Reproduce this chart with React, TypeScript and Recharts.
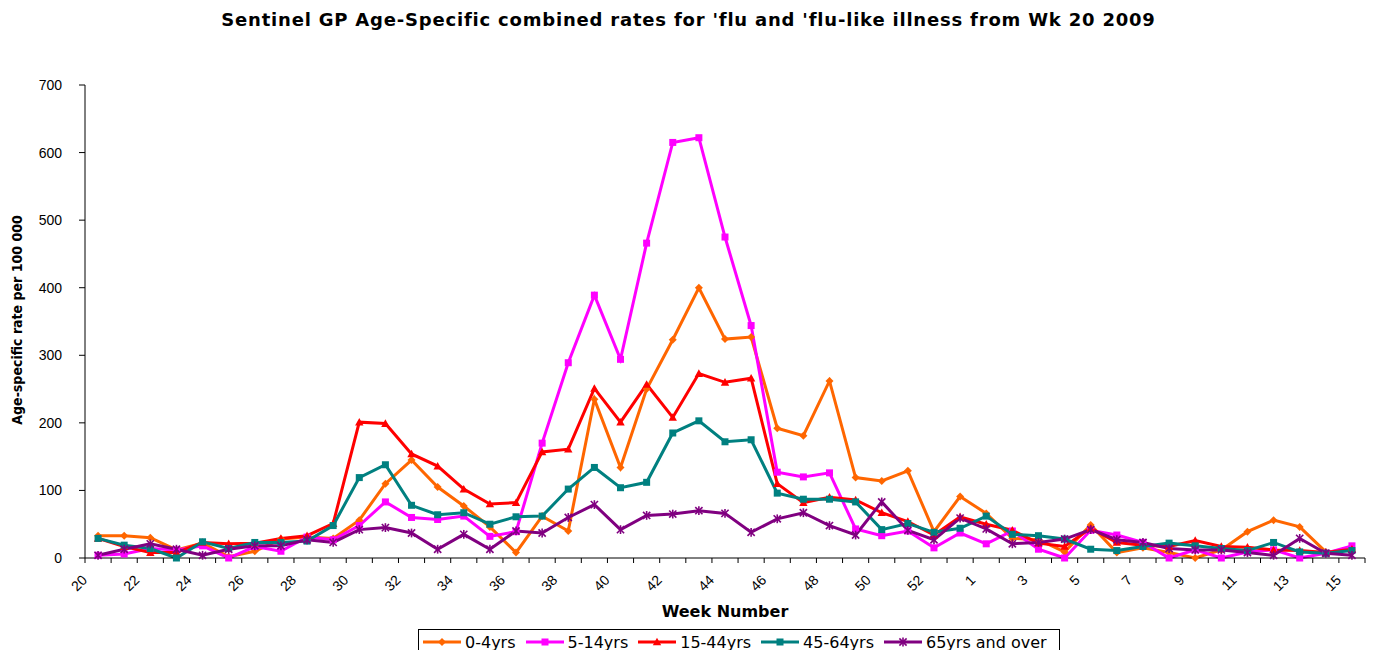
import React from 'react';
import { LineChart, Line, XAxis, YAxis, Legend } from 'recharts';

const weeks = ['20','21','22','23','24','25','26','27','28','29','30','31','32','33','34','35','36','37','38','39','40','41','42','43','44','45','46','47','48','49','50','51','52','53','1','2','3','4','5','6','7','8','9','10','11','12','13','14','15'];

const age0to4 = [33,33,30,12,22,2,10,28,31,29,56,110,145,105,77,46,8,62,40,235,134,250,323,400,324,327,192,181,262,119,114,129,39,91,66,29,27,9,49,8,15,8,0,12,39,56,46,9,12];
const age5to14 = [4,6,14,12,18,0,17,10,31,27,48,83,60,57,62,32,39,170,289,389,294,466,615,622,475,344,127,120,126,43,33,40,15,37,21,40,13,0,41,34,23,0,12,0,9,12,0,7,18];
const age15to44 = [29,17,8,8,23,21,22,29,33,51,201,199,154,136,102,80,82,157,161,251,201,257,208,273,260,266,110,82,90,86,67,54,34,61,50,41,22,17,44,23,19,17,26,17,16,12,11,8,13];
const age45to64 = [29,19,14,0,24,14,23,23,25,48,119,138,78,64,67,50,61,62,102,134,104,112,185,203,172,175,96,87,87,83,42,51,38,44,62,35,33,28,13,11,17,22,18,14,11,23,9,7,11];
const age65plus = [4,13,21,13,4,13,18,18,27,23,42,45,37,13,35,13,40,37,60,79,42,63,65,70,66,38,58,67,48,34,83,41,27,59,43,21,23,28,42,27,23,14,12,12,8,4,29,7,4];

const yTicks = [0, 100, 200, 300, 400, 500, 600, 700];

const seriesNames = ['0-4yrs', '5-14yrs', '15-44yrs', '45-64yrs', '65yrs and over'];
const seriesValues = [age0to4, age5to14, age15to44, age45to64, age65plus];
const seriesKeys = ['s0', 's1', 's2', 's3', 's4'];
const seriesColors = ['#FF6600', '#FF00FF', '#FF0000', '#008080', '#800080'];
const seriesShapes = ['diamond', 'square', 'triangle', 'square', 'star'];

const data = weeks.map((w, i) => {
  const row: Record<string, any> = { week: w };
  seriesKeys.forEach((k, j) => { row[k] = seriesValues[j][i]; });
  return row;
});

const PLOT_LEFT = 85;
const PLOT_RIGHT = 1365;
const BAND = (PLOT_RIGHT - PLOT_LEFT) / weeks.length;

const Marker = ({ shape, cx, cy, color, s = 1 }: any) => {
  if (shape === 'diamond') {
    const r = 4 * s;
    return <path d={`M${cx},${cy - r}L${cx + r},${cy}L${cx},${cy + r}L${cx - r},${cy}Z`} fill={color} />;
  }
  if (shape === 'square') {
    const r = 3.5 * s;
    return <rect x={cx - r} y={cy - r} width={2 * r} height={2 * r} fill={color} />;
  }
  if (shape === 'triangle') {
    const r = 4.2 * s;
    return <path d={`M${cx},${cy - r}L${cx + r},${cy + r * 0.8}L${cx - r},${cy + r * 0.8}Z`} fill={color} />;
  }
  const r = 3.6 * s;
  return (
    <g stroke={color} strokeWidth={1.6}>
      <line x1={cx - r} y1={cy - r} x2={cx + r} y2={cy + r} />
      <line x1={cx - r} y1={cy + r} x2={cx + r} y2={cy - r} />
      <line x1={cx} y1={cy - r - 0.8} x2={cx} y2={cy + r + 0.8} />
    </g>
  );
};

const makeDot = (shape: string, color: string, key: string) => (props: any) => {
  const { cx, cy, index } = props;
  if (cx == null || cy == null) return <g key={`${key}-${index}`} />;
  return <Marker key={`${key}-${index}`} shape={shape} cx={cx} cy={cy} color={color} />;
};

const XTick = (props: any) => {
  const { x, y, payload } = props;
  const ax = x - 10;
  const ay = y + 23;
  return (
    <g>
      <line x1={x - BAND / 2} x2={x - BAND / 2} y1={y} y2={y + 5} stroke="#000" />
      <line x1={x + BAND / 2} x2={x + BAND / 2} y1={y} y2={y + 5} stroke="#000" />
      <text
        x={ax}
        y={ay}
        textAnchor="end"
        transform={`rotate(-45, ${ax}, ${ay})`}
        fontSize={14}
        fontFamily="'Liberation Sans', Arial, sans-serif"
        fill="#000"
      >
        {payload.value}
      </text>
    </g>
  );
};

const YLabel = () => (
  <text
    x={22}
    y={320}
    transform="rotate(-90, 22, 320)"
    textAnchor="middle"
    fontSize={14}
    fontWeight="bold"
    fontFamily="'DejaVu Sans Condensed', 'Liberation Sans Narrow', sans-serif"
    fill="#000"
  >
    Age-specific rate per 100 000
  </text>
);

const XLabel = () => (
  <text
    x={725}
    y={617}
    textAnchor="middle"
    fontSize={16}
    fontWeight="bold"
    fontFamily="'DejaVu Sans', sans-serif"
    fill="#000"
  >
    Week Number
  </text>
);

const LegendBox = () => (
  <div
    style={{
      border: '1px solid #000',
      background: '#fff',
      height: 26,
      boxSizing: 'border-box',
      display: 'flex',
      alignItems: 'center',
      paddingLeft: 4,
      gap: 10,
      fontFamily: "'DejaVu Sans', sans-serif",
      fontSize: 16,
      whiteSpace: 'nowrap',
      color: '#000',
    }}
  >
    {seriesNames.map((name, i) => (
      <div key={name} style={{ display: 'flex', alignItems: 'center', gap: 4 }}>
        <svg width={38} height={12}>
          <line x1={0} y1={6} x2={38} y2={6} stroke={seriesColors[i]} strokeWidth={3} />
          <Marker shape={seriesShapes[i]} cx={19} cy={6} color={seriesColors[i]} />
        </svg>
        <span>{name}</span>
      </div>
    ))}
  </div>
);

export default function App() {
  return (
    <div style={{ position: 'absolute', left: 0, top: 0, width: 1377, height: 650, overflow: 'hidden', background: '#fff' }}>
      <div
        style={{
          position: 'absolute',
          left: 0,
          top: 9,
          width: 1377,
          textAlign: 'center',
          fontFamily: "'DejaVu Sans', sans-serif",
          fontWeight: 'bold',
          fontSize: 18,
          letterSpacing: 0.8,
          lineHeight: '22px',
          color: '#000',
          zIndex: 2,
        }}
      >
        Sentinel GP Age-Specific combined rates for 'flu and 'flu-like illness from Wk 20 2009
      </div>
      <LineChart width={1377} height={650} data={data} margin={{ top: 85, right: 12, left: 0, bottom: 0 }}>
        <XAxis
          dataKey="week"
          interval={1}
          tickLine={false}
          tickSize={0}
          tickMargin={0}
          height={92}
          padding={{ left: BAND / 2, right: BAND / 2 }}
          axisLine={{ stroke: '#000' }}
          tick={<XTick />}
          label={<XLabel />}
        />
        <YAxis
          type="number"
          domain={[0, 700]}
          ticks={yTicks}
          width={85}
          tickSize={6}
          tickMargin={17}
          axisLine={{ stroke: '#000' }}
          tickLine={{ stroke: '#000' }}
          tick={{ fill: '#000', fontSize: 14, fontFamily: "'Liberation Sans', Arial, sans-serif" }}
          label={<YLabel />}
        />
        <Legend
          layout="horizontal"
          verticalAlign="middle"
          align="center"
          wrapperStyle={{ left: 418, top: 629, width: 642, height: 26 }}
          content={() => <LegendBox />}
        />
        {seriesKeys.map((k, i) => (
          <Line
            key={k}
            dataKey={k}
            name={seriesNames[i]}
            type="linear"
            stroke={seriesColors[i]}
            strokeWidth={3}
            dot={makeDot(seriesShapes[i], seriesColors[i], k)}
            activeDot={false}
            isAnimationActive={false}
          />
        ))}
      </LineChart>
    </div>
  );
}
